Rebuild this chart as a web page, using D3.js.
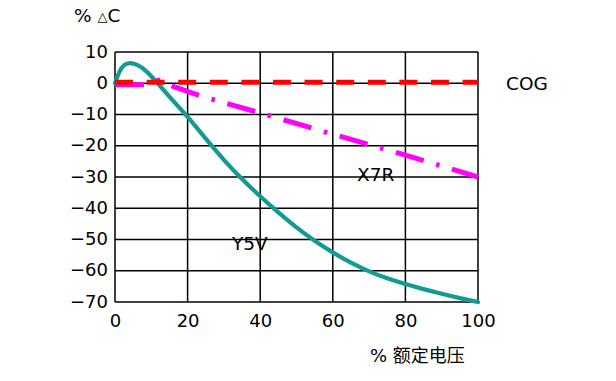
<!DOCTYPE html>
<html><head><meta charset="utf-8">
<script src="https://cdn.jsdelivr.net/npm/d3@7"></script>
<style>
html,body{margin:0;padding:0;background:#fff;}
svg{display:block;}
text{font-family:"DejaVu Sans","Noto Sans CJK SC",sans-serif;fill:#000;}
</style></head>
<body><svg id="c" width="616" height="381"></svg>
<script>
const xTicks = [0, 20, 40, 60, 80, 100];
const yTicks = [10, 0, -10, -20, -30, -40, -50, -60, -70];
const y5vX = [0, 1.2, 2.5, 4, 6, 8.5, 11, 15, 20, 25, 30, 35, 40, 45, 50, 55, 60, 65, 70, 75, 80, 85, 90, 95, 100];
const y5vY = [0, 4.0, 6.0, 6.6, 6.1, 4.2, 1.0, -4.4, -10.6, -17.8, -24.6, -30.8, -36.2, -41.4, -46.2, -50.5, -54.2, -57.5, -60.3, -62.5, -64.3, -65.9, -67.4, -68.8, -70];
const x7rX = [0, 8, 12, 16, 24, 40, 60, 80, 100];
const x7rY = [-0.5, -0.5, 1.0, -1.0, -4.2, -9.5, -16.3, -23.0, -30.0];
const cogX = [0, 100];
const cogY = [0.3, 0.3];
const seriesLabels = ["COG", "X7R", "Y5V"];
const yAxisTitle = "% ";
const xAxisTitle = "% 额定电压";

const W = 616, H = 381;
const m = {left: 115, right: 138, top: 52, bottom: 79};
const svg = d3.select("#c");
const x = d3.scaleLinear().domain([0, 100]).range([m.left, W - m.right]);
const y = d3.scaleLinear().domain([-70, 10]).range([H - m.bottom, m.top]);

// grid
const g = svg.append("g");
g.selectAll(".vg").data(xTicks).join("line")
  .attr("x1", d => x(d)).attr("x2", d => x(d))
  .attr("y1", y(10)).attr("y2", y(-70))
  .attr("stroke", "#000").attr("stroke-width", 1.5);
g.selectAll(".hg").data(yTicks).join("line")
  .attr("x1", x(0)).attr("x2", x(100))
  .attr("y1", d => y(d)).attr("y2", d => y(d))
  .attr("stroke", "#000").attr("stroke-width", 1.5);

// axes labels via d3 axes (no lines)
const yAxis = svg.append("g").attr("transform", `translate(${x(0)},0)`)
  .call(d3.axisLeft(y).tickValues(yTicks).tickSize(0).tickPadding(7));
const xAxis = svg.append("g").attr("transform", `translate(0,${y(-70)})`)
  .call(d3.axisBottom(x).tickValues(xTicks).tickSize(0).tickPadding(12));
[yAxis, xAxis].forEach(a => {
  a.select(".domain").remove();
  a.selectAll("text").attr("font-size", 18).attr("fill", "#000")
    .attr("font-family", "DejaVu Sans");
});
yAxis.selectAll("text").attr("dy", "0.28em");

// Y5V
svg.append("path").datum(y5vX.map((v, i) => [v, y5vY[i]]))
  .attr("d", d3.line().x(d => x(d[0])).y(d => y(d[1])).curve(d3.curveBasis))
  .attr("fill", "none").attr("stroke", "#129B95").attr("stroke-width", 4.2)
  .attr("stroke-linecap", "round");

// X7R
svg.append("path").datum(x7rX.map((v, i) => [v, x7rY[i]]))
  .attr("d", d3.line().x(d => x(d[0])).y(d => y(d[1])))
  .attr("fill", "none").attr("stroke", "#FF00FF").attr("stroke-width", 5)
  .attr("stroke-dasharray", "29,13,3.5,13");

// COG
svg.append("path").datum(cogX.map((v, i) => [v, cogY[i]]))
  .attr("d", d3.line().x(d => x(d[0])).y(d => y(d[1])))
  .attr("fill", "none").attr("stroke", "#FF0000").attr("stroke-width", 5)
  .attr("stroke-dasharray", "18,13.6");

// series labels
svg.append("text").attr("x", 506).attr("y", 90).attr("font-size", 18.5).text(seriesLabels[0]);
svg.append("text").attr("x", 357).attr("y", 181).attr("font-size", 18.5).text(seriesLabels[1]);
svg.append("text").attr("x", 232).attr("y", 250).attr("font-size", 18.5).text(seriesLabels[2]);

// axis titles
const yt = svg.append("text").attr("x", 74).attr("y", 22).attr("font-size", 18.5);
yt.append("tspan").text(yAxisTitle);
yt.append("tspan").attr("font-size", 13).attr("dy", -1).text("△");
yt.append("tspan").attr("dy", 1).text("C");
svg.append("text").attr("x", 370).attr("y", 362).attr("font-size", 18)
  .attr("font-family", "DejaVu Sans, Noto Sans CJK SC").text(xAxisTitle);
</script></body></html>
